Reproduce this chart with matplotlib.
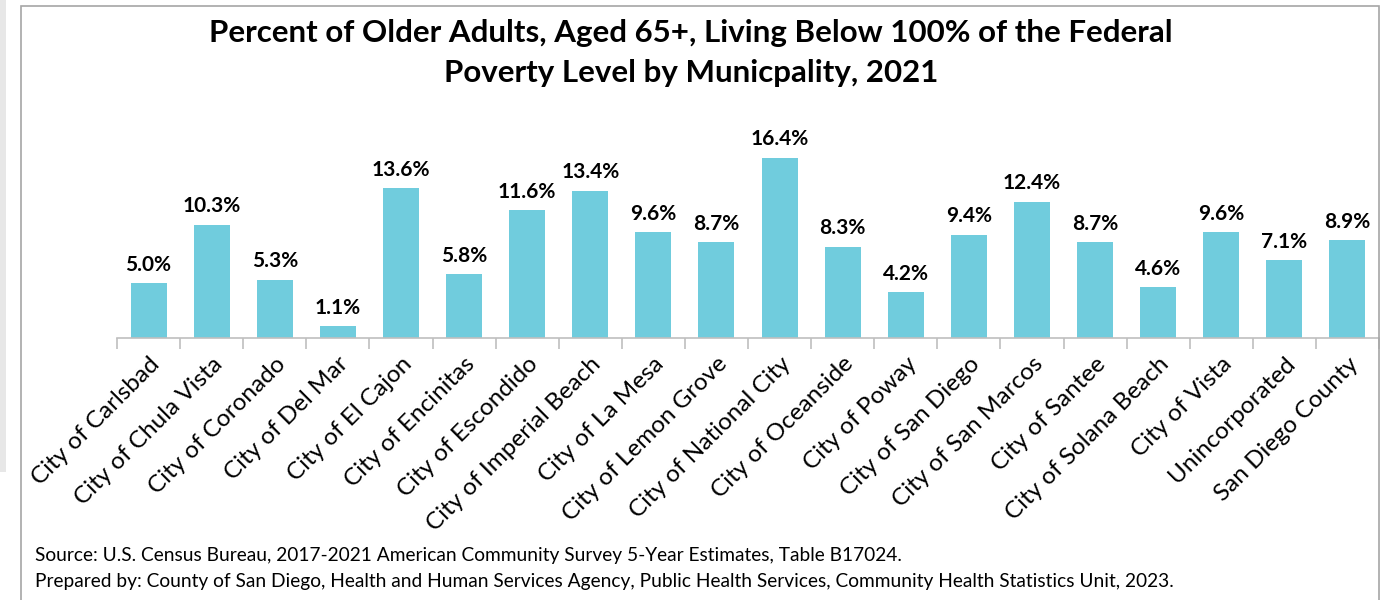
import matplotlib
matplotlib.use("Agg")
import matplotlib.pyplot as plt
from matplotlib.patches import Rectangle

places = ["City of Carlsbad", "City of Chula Vista", "City of Coronado", "City of Del Mar",
          "City of El Cajon", "City of Encinitas", "City of Escondido", "City of Imperial Beach",
          "City of La Mesa", "City of Lemon Grove", "City of National City", "City of Oceanside",
          "City of Poway", "City of San Diego", "City of San Marcos", "City of Santee",
          "City of Solana Beach", "City of Vista", "Unincorporated", "San Diego County"]
pct = [5.0, 10.3, 5.3, 1.1, 13.6, 5.8, 11.6, 13.4, 9.6, 8.7,
       16.4, 8.3, 4.2, 9.4, 12.4, 8.7, 4.6, 9.6, 7.1, 8.9]

title = "Percent of Older Adults, Aged 65+, Living Below 100% of the Federal\nPoverty Level by Municpality, 2021"
notes = ["Source: U.S. Census Bureau, 2017-2021 American Community Survey 5-Year Estimates, Table B17024.",
         "Prepared by: County of San Diego, Health and Human Services Agency, Public Health Services, Community Health Statistics Unit, 2023."]

plt.rcParams['font.family'] = ['Lato', 'DejaVu Sans']

W, H = 1398, 600
fig = plt.figure(figsize=(W / 100, H / 100), dpi=100)

# frame and grey strip on the left
fig.patches.append(Rectangle((0, 1 - 472 / H), 6 / W, 472 / H, transform=fig.transFigure,
                             facecolor="#E7E7E7", edgecolor="none"))
fig.patches.append(Rectangle((21 / W, -0.05), (1379 - 21) / W, 1.05 - 6 / H, transform=fig.transFigure,
                             facecolor="none", edgecolor="#A6A6A6", linewidth=1.2))

ax = fig.add_axes([117 / W, 1 - 338 / H, (1379 - 117) / W, 198 / H])
x = range(len(places))
bars = ax.bar(x, pct, width=0.57, color="#70CCDD")
for xi, v in zip(x, pct):
    ax.text(xi, v + 0.75, f"{v:.1f}%", ha="center", va="bottom", fontsize=15, fontweight="bold")

ax.set_xlim(-0.5, len(places) - 0.5)
ax.set_ylim(0, 18)
ax.set_yticks([])
for s in ["top", "right", "left"]:
    ax.spines[s].set_visible(False)
ax.spines["bottom"].set_color("#BFBFBF")
ax.spines["bottom"].set_linewidth(1.2)
ax.set_xticks(list(x))
ax.set_xticklabels(places, rotation=45, ha="right", rotation_mode="anchor", fontsize=17.5)
ax.tick_params(axis="x", which="major", length=0, pad=11)
ax.set_xticks([i - 0.5 for i in range(len(places) + 1)], minor=True)
ax.tick_params(axis="x", which="minor", length=8, color="#BFBFBF", width=1.2)

fig.text(691 / W, 1 - 53 / H, title, ha="center", va="center", fontsize=22.5, fontweight="bold",
         linespacing=1.5)
fig.text(35 / W, 1 - 555 / H, notes[0], ha="left", va="center", fontsize=13.8)
fig.text(35 / W, 1 - 582 / H, notes[1], ha="left", va="center", fontsize=13.8)

fig.savefig("out.png", dpi=100)
